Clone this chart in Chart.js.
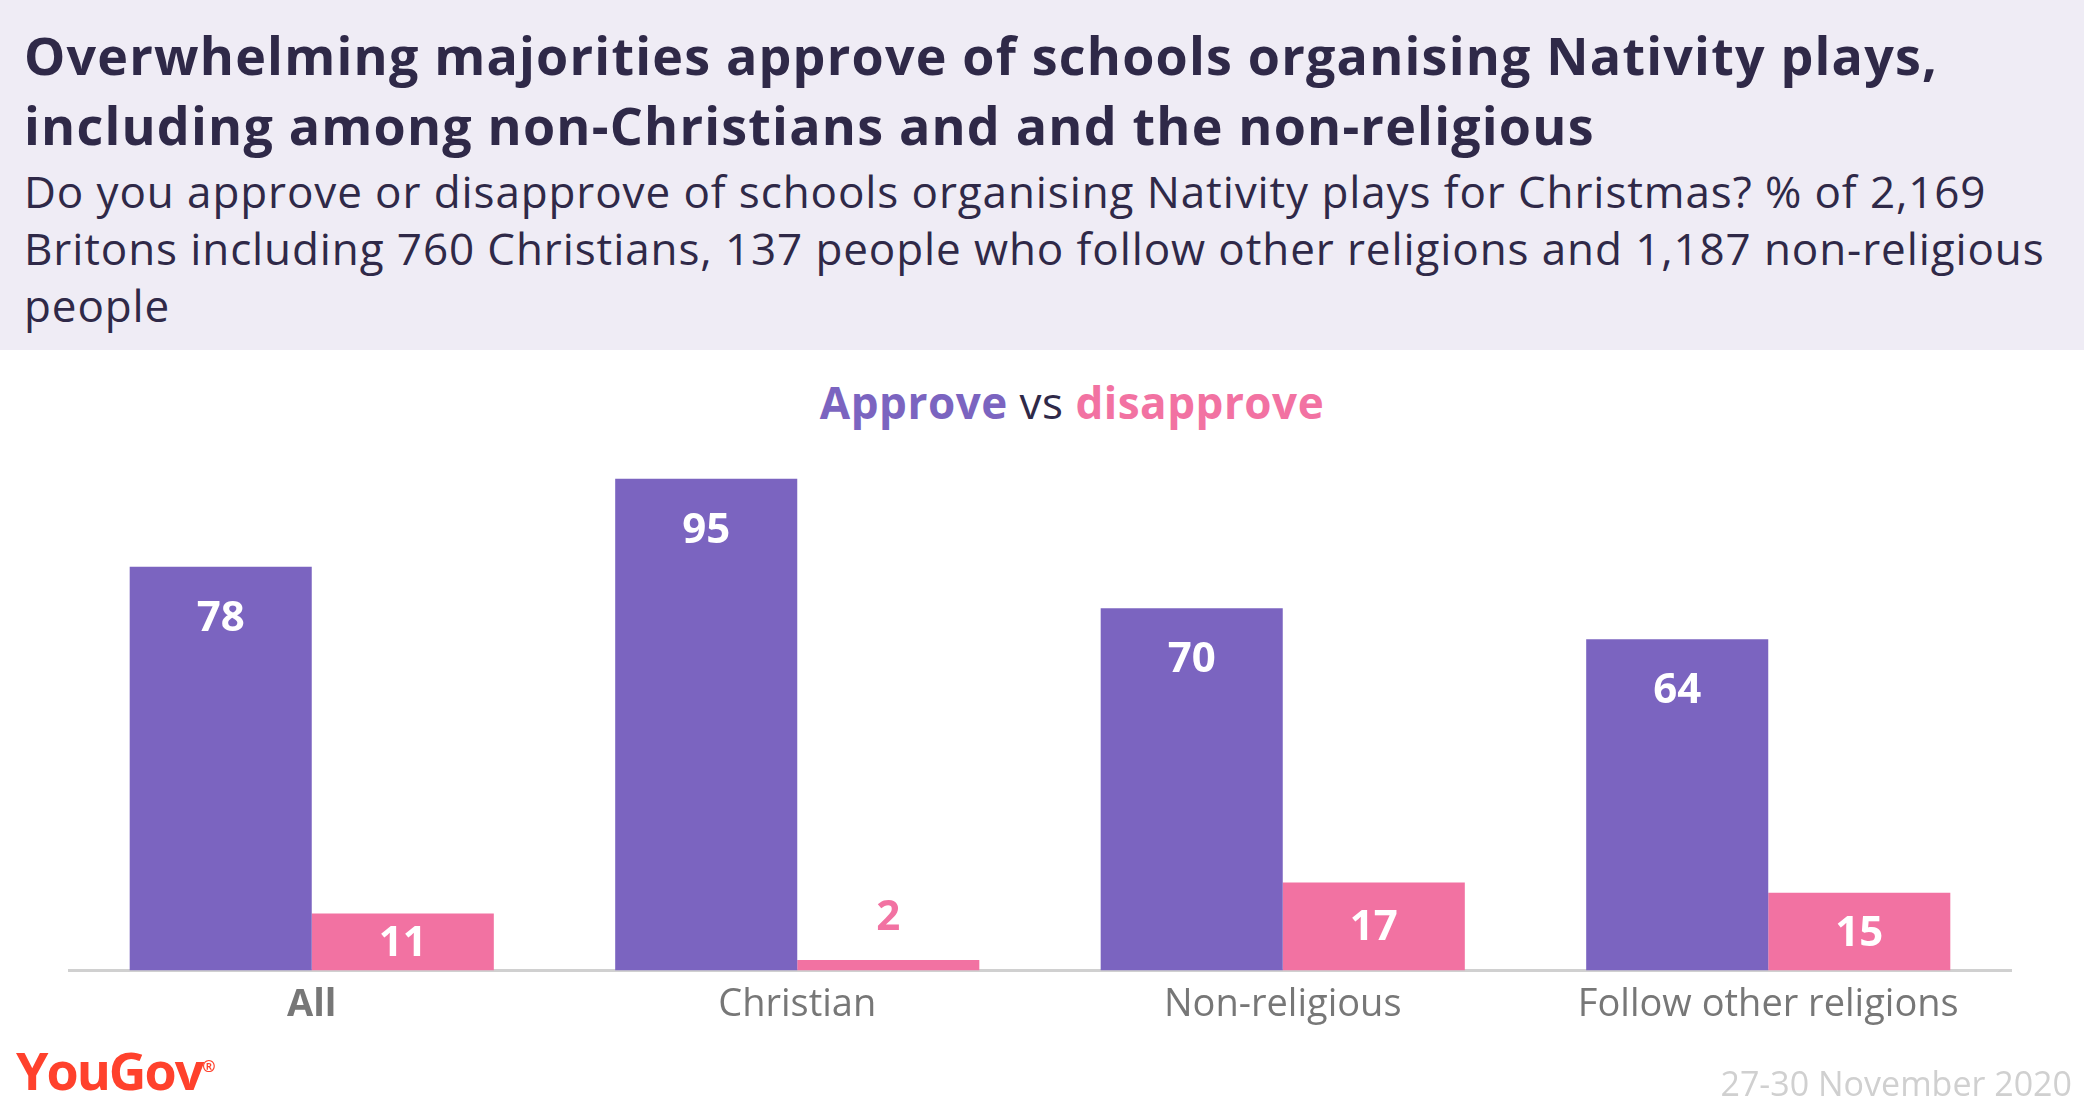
<!DOCTYPE html>
<html>
<head>
<meta charset="utf-8">
<script src="https://cdn.jsdelivr.net/npm/chart.js@4"></script>
<style>
  body { margin: 0; width: 2084px; height: 1107px; background: #fff; font-family: "Open Sans", sans-serif; position: relative; overflow: hidden; }
  #head { position: absolute; left: 0; top: 0; width: 2084px; height: 350px; background: #efecf5; }
  #title { position: absolute; left: 24px; top: 20px; font-size: 52px; font-weight: 700; color: #2f2948; line-height: 70px; letter-spacing: 1.2px; }
  #sub { position: absolute; left: 24px; top: 163px; font-size: 44px; font-weight: 400; color: #2f2948; line-height: 57px; width: 2060px; letter-spacing: 0.9px; }
  #legend { position: absolute; top: 372px; width: 2084px; left: 30px; text-align: center; font-size: 44px; color: #2f2948; letter-spacing: 0.5px; }
  #wrap { position: absolute; left: 0; top: 350px; width: 2084px; height: 730px; }
  #logo { position: absolute; left: 16px; top: 1034px; font-size: 52px; font-weight: 700; color: #ff412c; letter-spacing: -2px; }
  #date { position: absolute; right: 12px; top: 1060px; font-size: 34px; font-weight: 400; color: #d0d0d0; }
</style>
</head>
<body>
<div id="head">
  <div id="title">Overwhelming majorities approve of schools organising Nativity plays,<br>including among non-Christians and and the non-religious</div>
  <div id="sub">Do you approve or disapprove of schools organising Nativity plays for Christmas? % of 2,169<br>Britons including 760 Christians, 137 people who follow other religions and 1,187 non-religious<br>people</div>
</div>
<div id="legend"><b style="color:#7b64c0">Approve</b> vs <b style="color:#f272a2">disapprove</b></div>
<div id="wrap"><canvas id="chart" width="2084" height="730"></canvas></div>
<div id="logo">YouGov<sup style="font-size:16px">®</sup></div>
<div id="date">27-30 November 2020</div>
<script>
const categories = ['All', 'Christian', 'Non-religious', 'Follow other religions'];
const approve = [78, 95, 70, 64];
const disapprove = [11, 2, 17, 15];

// value labels: approve near top of bar, disapprove centred (or above if too short)
const barLabels = {
  id: 'barLabels',
  afterDatasetsDraw(chart) {
    const ctx = chart.ctx;
    ctx.save();
    ctx.font = '700 42px "Open Sans"';
    ctx.textAlign = 'center';
    ctx.textBaseline = 'middle';
    chart.data.datasets.forEach((ds, i) => {
      chart.getDatasetMeta(i).data.forEach((bar, j) => {
        const h = bar.base - bar.y;
        if (h > 40) {
          ctx.fillStyle = '#fff';
          ctx.fillText(ds.data[j], bar.x, i === 0 ? bar.y + 52 : bar.y + h / 2 + 2);
        } else {
          ctx.fillStyle = ds.backgroundColor;
          ctx.fillText(ds.data[j], bar.x, bar.y - 42);
        }
      });
    });
    ctx.restore();
  }
};

new Chart(document.getElementById('chart'), {
  type: 'bar',
  data: {
    labels: categories,
    datasets: [
      { label: 'Approve', data: approve, backgroundColor: '#7b64c0' },
      { label: 'Disapprove', data: disapprove, backgroundColor: '#f272a2' }
    ]
  },
  options: {
    responsive: false,
    animation: false,
    devicePixelRatio: 1,
    layout: { padding: { left: 69, right: 73, top: 103, bottom: 40 } },
    plugins: { legend: { display: false }, tooltip: { enabled: false } },
    datasets: { bar: { categoryPercentage: 0.75, barPercentage: 1 } },
    scales: {
      y: { display: false, min: 0, max: 100 },
      x: {
        grid: { display: false, drawTicks: false },
        border: { color: '#d0d0d0', width: 3 },
        ticks: {
          color: '#777777',
          padding: 12,
          font: (c) => ({ family: 'Open Sans', size: 38, weight: c.index === 0 ? '700' : '400' })
        }
      }
    }
  },
  plugins: [barLabels]
});
</script>
</body>
</html>
